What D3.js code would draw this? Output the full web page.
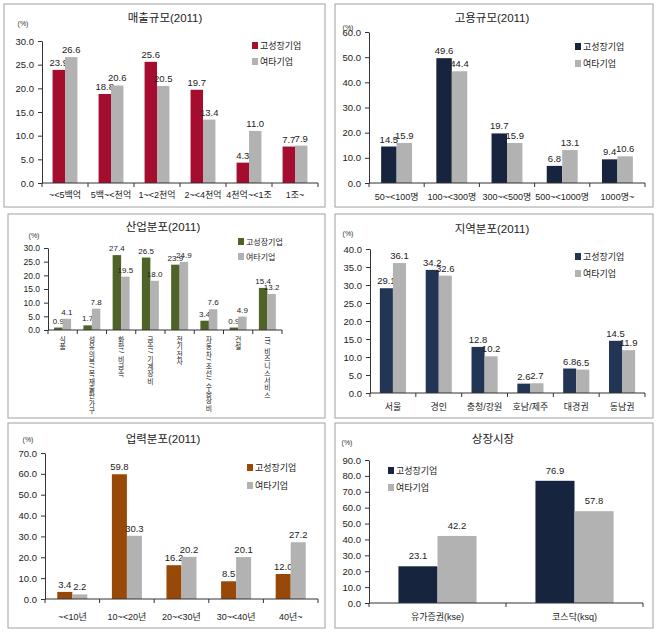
<!DOCTYPE html>
<html><head><meta charset="utf-8">
<script src="https://cdn.jsdelivr.net/npm/d3@7"></script>
<style>
body{margin:0;background:#fff;}
svg{display:block;font-family:"Liberation Sans","Noto Sans CJK KR",sans-serif;}
</style></head>
<body><svg id="c" width="666" height="634"></svg>
<script>
const seriesNames = ["고성장기업", "여타기업"];

const salesCats = ["~<5백억", "5백~<천억", "1~<2천억", "2~<4천억", "4천억~<1조", "1조~"];
const salesHigh = [23.9, 18.8, 25.6, 19.7, 4.3, 7.7];
const salesOther = [26.6, 20.6, 20.5, 13.4, 11.0, 7.9];
const salesTicks = [0, 5, 10, 15, 20, 25, 30];

const empCats = ["50~<100명", "100~<300명", "300~<500명", "500~<1000명", "1000명~"];
const empHigh = [14.5, 49.6, 19.7, 6.8, 9.4];
const empOther = [15.9, 44.4, 15.9, 13.1, 10.6];
const empTicks = [0, 10, 20, 30, 40, 50, 60];

const indCats = ["식품", "섬유의복/목재출판가구", "화학/비금속", "금속/기계장비", "전기전자", "자동차/조선/수송장비", "건설", "IT/비즈니스서비스"];
const indHigh = [0.9, 1.7, 27.4, 26.5, 23.9, 3.4, 0.9, 15.4];
const indOther = [4.1, 7.8, 19.5, 18.0, 24.9, 7.6, 4.9, 13.2];
const indTicks = [0, 5, 10, 15, 20, 25, 30];

const regCats = ["서울", "경인", "충청/강원", "호남/제주", "대경권", "동남권"];
const regHigh = [29.1, 34.2, 12.8, 2.6, 6.8, 14.5];
const regOther = [36.1, 32.6, 10.2, 2.7, 6.5, 11.9];
const regTicks = [0, 5, 10, 15, 20, 25, 30, 35, 40];

const ageCats = ["~<10년", "10~<20년", "20~<30년", "30~<40년", "40년~"];
const ageHigh = [3.4, 59.8, 16.2, 8.5, 12.0];
const ageOther = [2.2, 30.3, 20.2, 20.1, 27.2];
const ageTicks = [0, 10, 20, 30, 40, 50, 60, 70];

const mktCats = ["유가증권(kse)", "코스닥(ksq)"];
const mktHigh = [23.1, 76.9];
const mktOther = [42.2, 57.8];
const mktTicks = [0, 10, 20, 30, 40, 50, 60, 70, 80, 90];

const svg = d3.select("#c");
const GREY = "#b2b2b2";

function verticalLabel(g, cx, y0, str, fs) {
  const runs = str.match(/[\x00-\x7F]+|[^\x00-\x7F]/g);
  let y = y0;
  runs.forEach(r => {
    if (/^[\x00-\x7F]+$/.test(r)) {
      const len = r.length * fs * 0.5 + 1.5;
      g.append("text").attr("transform", `translate(${cx - fs * 0.35},${y + 0.5}) rotate(90)`)
        .attr("font-size", fs).attr("fill", "#222").text(r);
      y += len;
    } else {
      g.append("text").attr("x", cx).attr("y", y + fs * 0.88).attr("text-anchor", "middle")
        .attr("font-size", fs).attr("fill", "#222").text(r);
      y += fs * 1.08;
    }
  });
}

function panel(o) {
  const g = svg.append("g");
  g.append("rect").attr("x", o.box[0]).attr("y", o.box[1])
    .attr("width", o.box[2] - o.box[0]).attr("height", o.box[3] - o.box[1])
    .attr("fill", "#fff").attr("stroke", "#a0a0a0").attr("stroke-width", 1);
  g.append("text").attr("x", o.titleX).attr("y", o.titleY).attr("text-anchor", "middle")
    .attr("font-size", 11.5).attr("fill", "#222").text(o.title);
  g.append("text").attr("x", o.pctX).attr("y", o.pctY).attr("text-anchor", "middle")
    .attr("font-size", 7).attr("fill", "#333").text("(%)");
  const x = d3.scaleBand().domain(o.cats).range([o.x0, o.x1]).padding(0);
  const y = d3.scaleLinear().domain([0, o.ticks[o.ticks.length - 1]]).range([o.y0, o.y1]);
  const bw = x.bandwidth() * o.ratio / 2;
  const rows = o.cats.map((c, i) => ({c, v: [o.high[i], o.other[i]]}));
  const cols = [o.color, GREY];
  rows.forEach(r => {
    r.v.forEach((v, k) => {
      const bx = x(r.c) + x.bandwidth() / 2 - bw + k * bw;
      g.append("rect").attr("x", bx).attr("y", y(v)).attr("width", bw)
        .attr("height", y(0) - y(v)).attr("fill", cols[k]);
      g.append("text").attr("x", bx + bw / 2).attr("y", y(v) - o.lblGap)
        .attr("text-anchor", "middle").attr("font-size", o.valFont).attr("fill", "#222")
        .text(v.toFixed(1));
    });
  });
  const ya = g.append("g").attr("transform", `translate(${o.x0},0)`)
    .call(d3.axisLeft(y).tickValues(o.ticks).tickFormat(d3.format(".1f")).tickSize(4).tickSizeOuter(0));
  ya.selectAll("text").attr("font-size", o.tickFont).attr("fill", "#222")
    .attr("font-family", "Liberation Sans, sans-serif").attr("x", -8);
  ya.select(".domain").attr("stroke", "#333");
  ya.selectAll(".tick line").attr("stroke", "#333");
  const xa = g.append("g").attr("transform", `translate(0,${o.y0})`);
  xa.append("line").attr("x1", o.x0).attr("x2", o.x1).attr("stroke", "#333");
  const bounds = o.cats.map(c => x(c)).concat([o.x1]);
  bounds.forEach(b => xa.append("line").attr("x1", b).attr("x2", b).attr("y1", 0).attr("y2", 4).attr("stroke", "#333"));
  o.cats.forEach(c => {
    if (o.vertical) {
      verticalLabel(xa, x(c) + x.bandwidth() / 2, 6, c, o.catFont);
    } else {
      xa.append("text").attr("fill", "#222").attr("font-size", o.catFont).text(c)
        .attr("x", x(c) + x.bandwidth() / 2).attr("y", o.catY - o.y0).attr("text-anchor", "middle");
    }
  });
  seriesNames.forEach((n, k) => {
    const ly = o.legY + k * o.legGap;
    g.append("rect").attr("x", o.legX).attr("y", ly - 4).attr("width", 6).attr("height", 7).attr("fill", cols[k]);
    g.append("text").attr("x", o.legX + 8).attr("y", ly + 3).attr("font-size", o.legFont)
      .attr("fill", "#222").text(n);
  });
}

panel({box:[4,4,325,207], title:"매출규모(2011)", titleX:165, titleY:22, pctX:23, pctY:26,
  cats:salesCats, high:salesHigh, other:salesOther, ticks:salesTicks, color:"#a50d2f",
  x0:42, x1:318, y0:183, y1:41, ratio:0.54, lblGap:4, valFont:9.5, tickFont:9.5, catFont:9, catY:198,
  legX:252, legY:46, legGap:16, legFont:9});

panel({box:[335,4,653,207], title:"고용규모(2011)", titleX:492, titleY:22, pctX:348, pctY:30,
  cats:empCats, high:empHigh, other:empOther, ticks:empTicks, color:"#17243d",
  x0:369, x1:645, y0:183, y1:32, ratio:0.56, lblGap:4, valFont:9.5, tickFont:9.5, catFont:9, catY:200,
  legX:575, legY:47, legGap:17, legFont:9});

panel({box:[8,214,325,418], title:"산업분포(2011)", titleX:163, titleY:231, pctX:34, pctY:238,
  cats:indCats, high:indHigh, other:indOther, ticks:indTicks, color:"#4f6228",
  x0:48, x1:282, y0:330, y1:248, ratio:0.58, lblGap:4, valFont:8, tickFont:8.5, catFont:6.8, vertical:true,
  legX:238, legY:242, legGap:15, legFont:8});

panel({box:[335,214,653,418], title:"지역분포(2011)", titleX:492, titleY:233, pctX:348, pctY:236,
  cats:regCats, high:regHigh, other:regOther, ticks:regTicks, color:"#233554",
  x0:370, x1:645, y0:393, y1:249, ratio:0.57, lblGap:4, valFont:9.5, tickFont:9.5, catFont:9, catY:410,
  legX:575, legY:257, legGap:17, legFont:9});

panel({box:[8,423,325,628], title:"업력분포(2011)", titleX:163, titleY:443, pctX:28, pctY:442,
  cats:ageCats, high:ageHigh, other:ageOther, ticks:ageTicks, color:"#984807",
  x0:45, x1:318, y0:599, y1:453, ratio:0.55, lblGap:4, valFont:9.5, tickFont:9.5, catFont:9, catY:620,
  legX:247, legY:468, legGap:18, legFont:9});

panel({box:[335,423,653,628], title:"상장시장", titleX:493, titleY:443, pctX:347, pctY:445,
  cats:mktCats, high:mktHigh, other:mktOther, ticks:mktTicks, color:"#17243d",
  x0:369, x1:643, y0:603, y1:460, ratio:0.57, lblGap:7, valFont:9.5, tickFont:9.5, catFont:9, catY:620,
  legX:388, legY:471, legGap:17, legFont:9});
</script></body></html>
